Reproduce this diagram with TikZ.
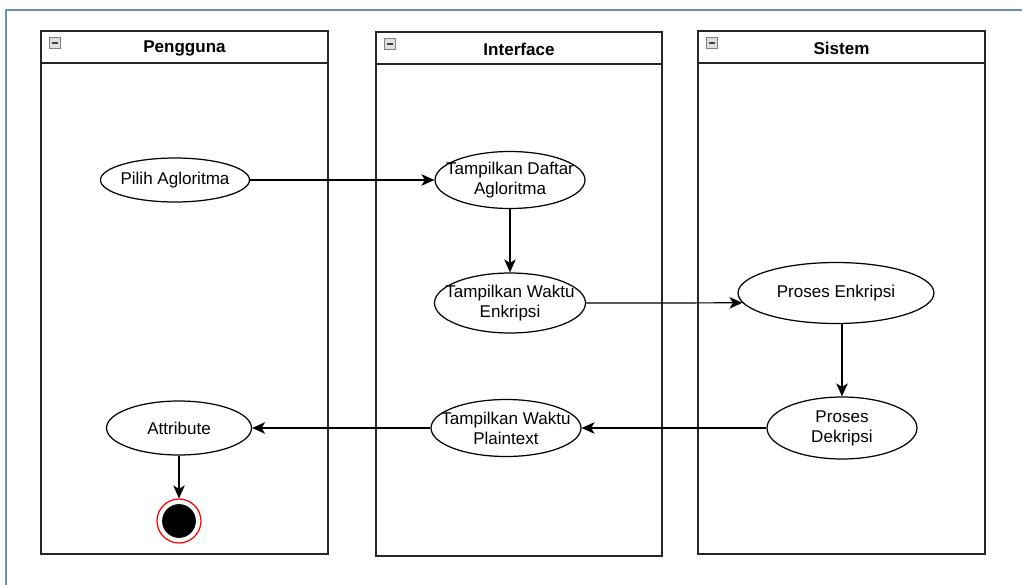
\documentclass[tikz,border=0pt]{standalone}
\usepackage{fontspec}
\setmainfont{Liberation Sans}
\usetikzlibrary{arrows.meta, positioning, shapes.geometric}
\definecolor{frameblue}{RGB}{108,142,191}

\begin{document}
\begin{tikzpicture}[
    x=0.02cm, y=-0.02cm,
    font=\fontsize{9.7}{11.3}\selectfont,
    lane/.style={draw=black!85, line width=0.9pt},
    head/.style={font=\fontsize{9.7}{11.3}\selectfont\bfseries, inner sep=0pt},
    icon/.style={draw=gray, fill=gray!25, minimum size=0.22cm, inner sep=0pt,
                 path picture={\draw[black!75, line width=0.9pt]
                   ([xshift=1.2pt]path picture bounding box.west) --
                   ([xshift=-1.2pt]path picture bounding box.east);}},
    act/.style={draw, ellipse, fill=white, line width=0.7pt, inner sep=0pt,
                minimum width=3cm, minimum height=1.14cm,
                label={[align=center, inner sep=0pt]center:#1}},
    endout/.style={draw=red, circle, fill=white, line width=0.7pt,
                   minimum size=0.88cm, inner sep=0pt},
    endin/.style={draw, circle, fill=black, minimum size=0.66cm, inner sep=0pt},
    flow/.style={->, line width=0.7pt},
    >={Stealth[length=2.6mm, width=2.3mm, inset=0.7mm]},
]
\useasboundingbox (0,0) rectangle (1022,585);
% outer frame
\draw[frameblue, line width=1.2pt] (1022,10) -- (6,10) -- (6,585);

% swimlanes
\foreach \xa/\xb/\yt/\yh/\yb/\nm/\ttl in {
    41/328/31/63/554/pengguna/Pengguna,
    376/662/32/64/556/interface/Interface,
    698/985/31/63/554/sistem/Sistem} {
  \draw[lane] (\xa,\yt) rectangle (\xb,\yb);
  \draw[lane] (\xa,\yh) -- (\xb,\yh);
  \node[head] (t\nm) at ({(\xa+\xb)/2},{(\yt+\yh)/2+1.5}) {\ttl};
  \node[icon] (i\nm) at (\xa+14,{\yt+12}) {};
}

% activities
\node[act={Pilih Agloritma}, minimum width=2.98cm, minimum height=0.88cm]
      (pilih) at (175,180) {};
\node[act={Tampilkan Daftar\\Agloritma}] (daftar) at (510,180) {};
\node[act={Tampilkan Waktu\\Enkripsi}, minimum width=3.02cm, minimum height=1.2cm]
      (waktuenk) at (510,303) {};
\node[act={Proses Enkripsi}, minimum width=3.92cm, minimum height=1.22cm]
      (enkripsi) at (836,293) {};
\node[act={Proses\\Dekripsi}, minimum height=1.24cm] (dekripsi) at (842,428) {};
\node[act={Tampilkan Waktu\\Plaintext}] (plaintext) at (506,428) {};
\node[act={Attribute}, minimum width=2.9cm, minimum height=1.08cm]
      (attribute) at (179,428) {};
\node[endout] (selesai) at (179,521) {};
\node[endin] (selesaiin) at (selesai) {};

% connectors
\draw[flow] (pilih) -- (daftar);
\draw[flow] (daftar) -- (waktuenk);
\draw[flow] (waktuenk.east) -- (enkripsi.186);
\draw[flow] (enkripsi.south -| dekripsi) -- (dekripsi);
\draw[flow] (dekripsi) -- (plaintext);
\draw[flow] (plaintext) -- (attribute);
\draw[flow] (attribute) -- (selesai);
\end{tikzpicture}
\end{document}
